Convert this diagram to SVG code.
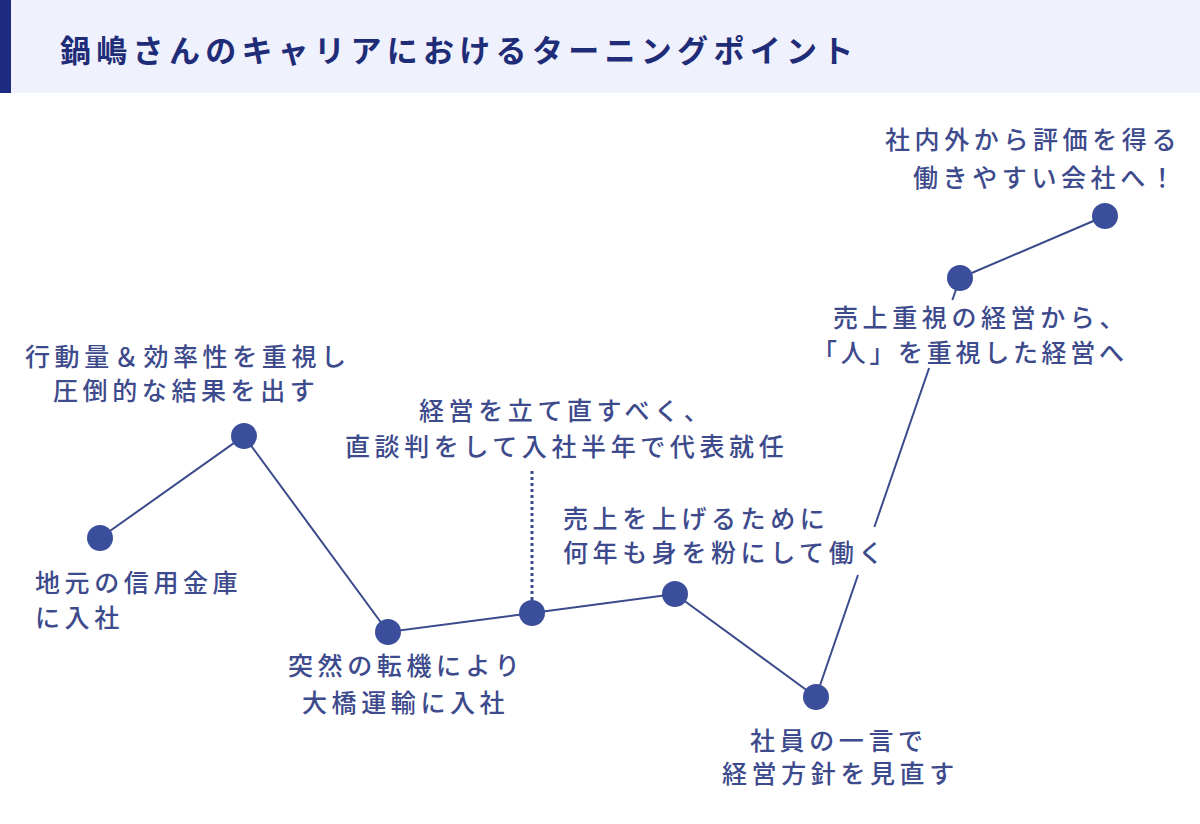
<svg xmlns="http://www.w3.org/2000/svg" width="1200" height="824" viewBox="0 0 1200 824">
<style>
.t{font-family:"Noto Sans CJK JP","Noto Sans",sans-serif;font-size:25px;font-weight:500;fill:#3d4a8c;letter-spacing:4.6px}
.ttl{font-family:"Noto Sans CJK JP","Noto Sans",sans-serif;font-size:31px;font-weight:700;fill:#1f2c78;letter-spacing:5.3px}
.n{fill:#3b4e9b}
.l{stroke:#3b4a8a;stroke-width:2;fill:none}
</style>
<rect width="1200" height="824" fill="#fff"/>
<g id="header">
<rect x="0" y="0" width="1200" height="93" fill="#eff1fc"/>
<rect x="0" y="0" width="11" height="93" fill="#1c2a80"/>
<text class="ttl" x="60" y="62">鍋嶋さんのキャリアにおけるターニングポイント</text>
</g>
<g id="connectors">
<polyline class="l" points="100,538 244,436 388,632 532,613 675,594 816,697"/>
<line class="l" x1="816" y1="697" x2="858" y2="575"/>
<line class="l" x1="874.4" y1="527" x2="929.1" y2="368"/>
<line class="l" x1="952.4" y1="300" x2="960" y2="278"/>
<line class="l" x1="960" y1="278" x2="1105" y2="216"/>
<line x1="532" y1="471" x2="532" y2="603" stroke="#3b4a8a" stroke-width="3" stroke-dasharray="3 3"/>
</g>
<g id="node1"><circle class="n" cx="100" cy="538" r="13"/><text class="t" x="35" y="592">地元の信用金庫</text><text class="t" x="35" y="627">に入社</text></g>
<g id="node2"><circle class="n" cx="244" cy="436" r="13"/><text class="t" x="25" y="366">行動量＆効率性を重視し</text><text class="t" x="53" y="400">圧倒的な結果を出す</text></g>
<g id="node3"><circle class="n" cx="388" cy="632" r="13"/><text class="t" x="288" y="675">突然の転機により</text><text class="t" x="302" y="712">大橋運輸に入社</text></g>
<g id="node4"><circle class="n" cx="532" cy="613" r="13"/><text class="t" x="419" y="420">経営を立て直すべく、</text><text class="t" x="345" y="456">直談判をして入社半年で代表就任</text></g>
<g id="node5"><circle class="n" cx="675" cy="594" r="13"/><text class="t" x="563" y="528">売上を上げるために</text><text class="t" x="563" y="562">何年も身を粉にして働く</text></g>
<g id="node6"><circle class="n" cx="816" cy="697" r="13"/><text class="t" x="750" y="750">社員の一言で</text><text class="t" x="722" y="783">経営方針を見直す</text></g>
<g id="node7"><circle class="n" cx="960" cy="278" r="13"/><text class="t" x="833" y="327">売上重視の経営から、</text><text class="t" x="812" y="362" style="letter-spacing:3.7px">「人」を重視した経営へ</text></g>
<g id="node8"><circle class="n" cx="1105" cy="216" r="13"/><text class="t" x="885" y="149">社内外から評価を得る</text><text class="t" x="913" y="187">働きやすい会社へ！</text></g>
</svg>
